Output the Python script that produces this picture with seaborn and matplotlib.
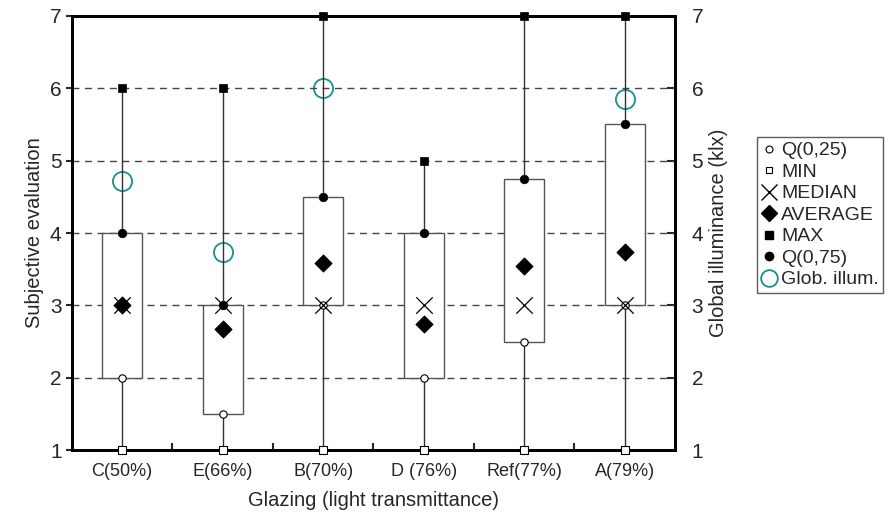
import numpy as np
import pandas as pd
import seaborn as sns
import matplotlib.pyplot as plt
from matplotlib.lines import Line2D

categories = ['C(50%)', 'E(66%)', 'B(70%)', 'D (76%)', 'Ref(77%)', 'A(79%)']
q_min = [1, 1, 1, 1, 1, 1]
q25 = [2, 1.5, 3, 2, 2.5, 3]
median = [3, 3, 3, 3, 3, 3]
average = [3.0, 2.68, 3.58, 2.74, 3.55, 3.74]
q75 = [4, 3, 4.5, 4, 4.75, 5.5]
q_max = [6, 6, 7, 5, 7, 7]
glob_illum = [4.72, 3.74, 6.0, 3.68, 4.40, 5.85]

df = pd.DataFrame({'glazing': categories, 'min': q_min, 'q25': q25, 'median': median,
                   'avg': average, 'q75': q75, 'max': q_max, 'glob': glob_illum})
df['x'] = np.arange(len(df))

sns.set_style('ticks')
plt.rcParams['font.family'] = ['Liberation Sans', 'DejaVu Sans']

fig = plt.figure(figsize=(8.88, 5.29), dpi=100)
ax = fig.add_axes([0.081, 0.149, 0.679, 0.821])
ax2 = ax.twinx()

teal = '#1a8f8f'

# dashed grid
for y in [2, 3, 4, 5, 6]:
    ax.axhline(y, color='#444444', ls=(0, (5, 4)), lw=1, zorder=0)

# whiskers and boxes
ax.vlines(df['x'], df['min'], df['max'], color='#333333', lw=1, zorder=1)
ax.bar(df['x'], df['q75'] - df['q25'], bottom=df['q25'], width=0.4,
       facecolor='white', edgecolor='#555555', lw=1, zorder=2)

sns.scatterplot(data=df, x='x', y='q25', marker='o', s=28, facecolor='white',
                edgecolor='black', linewidth=0.8, ax=ax, zorder=4)
sns.scatterplot(data=df, x='x', y='min', marker='s', s=28, facecolor='white',
                edgecolor='black', linewidth=0.8, ax=ax, zorder=4, clip_on=False)
sns.scatterplot(data=df, x='x', y='median', marker='x', s=140, color='black',
                linewidth=0.9, ax=ax, zorder=5)
sns.scatterplot(data=df, x='x', y='avg', marker='D', s=75, color='black',
                edgecolor='black', ax=ax, zorder=4)
sns.scatterplot(data=df, x='x', y='max', marker='s', s=38, color='black',
                edgecolor='black', ax=ax, zorder=4, clip_on=False)
sns.scatterplot(data=df, x='x', y='q75', marker='o', s=38, color='black',
                edgecolor='black', ax=ax, zorder=4)
sns.scatterplot(data=df, x='x', y='glob', marker='o', s=190, facecolor='white',
                edgecolor=teal, linewidth=1.3, ax=ax2, zorder=5)

for a in (ax, ax2):
    a.set_ylim(1, 7)
    a.set_xlim(-0.5, len(df) - 0.5)
    a.set_yticks(range(1, 8))
    a.tick_params(labelsize=15)
    for s in a.spines.values():
        s.set_linewidth(2)
        s.set_color('black')

ax.set_zorder(ax2.get_zorder() + 1)
ax.patch.set_visible(False)

ax.set_xticks(df['x'])
ax.set_xticklabels(categories)
ax.tick_params(axis='x', length=0, pad=9, labelsize=13)
ax.set_xticks(np.arange(len(df) - 1) + 0.5, minor=True)
ax.tick_params(axis='x', which='minor', direction='in', length=5, width=1.5)
ax.tick_params(axis='y', direction='out', length=4, width=1.5)
ax2.tick_params(axis='y', direction='in', length=6, width=1.5, pad=12)

ax.set_xlabel('Glazing (light transmittance)', fontsize=14.5, labelpad=8)
ax.set_ylabel('Subjective evaluation', fontsize=14.5)
ax2.set_ylabel('Global illuminance (klx)', fontsize=14.5, labelpad=4)
ax2.set_xlabel('')

handles = [
    Line2D([], [], ls='none', marker='o', ms=5, mfc='white', mec='black', mew=0.8),
    Line2D([], [], ls='none', marker='s', ms=5, mfc='white', mec='black', mew=0.8),
    Line2D([], [], ls='none', marker='x', ms=11, color='black', mew=1),
    Line2D([], [], ls='none', marker='D', ms=8, color='black'),
    Line2D([], [], ls='none', marker='s', ms=6, color='black'),
    Line2D([], [], ls='none', marker='o', ms=6, color='black'),
    Line2D([], [], ls='none', marker='o', ms=12, mfc='white', mec=teal, mew=1.3),
]
labels = ['Q(0,25)', 'MIN', 'MEDIAN', 'AVERAGE', 'MAX', 'Q(0,75)', 'Glob. illum.']
fig.legend(handles, labels, loc='upper left', bbox_to_anchor=(0.852, 0.741),
           frameon=True, fancybox=False, edgecolor='#333333', fontsize=14,
           handlelength=0.8, handletextpad=0.2, borderpad=0.25, labelspacing=0.2,
           borderaxespad=0)

fig.savefig('out.png', dpi=100)
